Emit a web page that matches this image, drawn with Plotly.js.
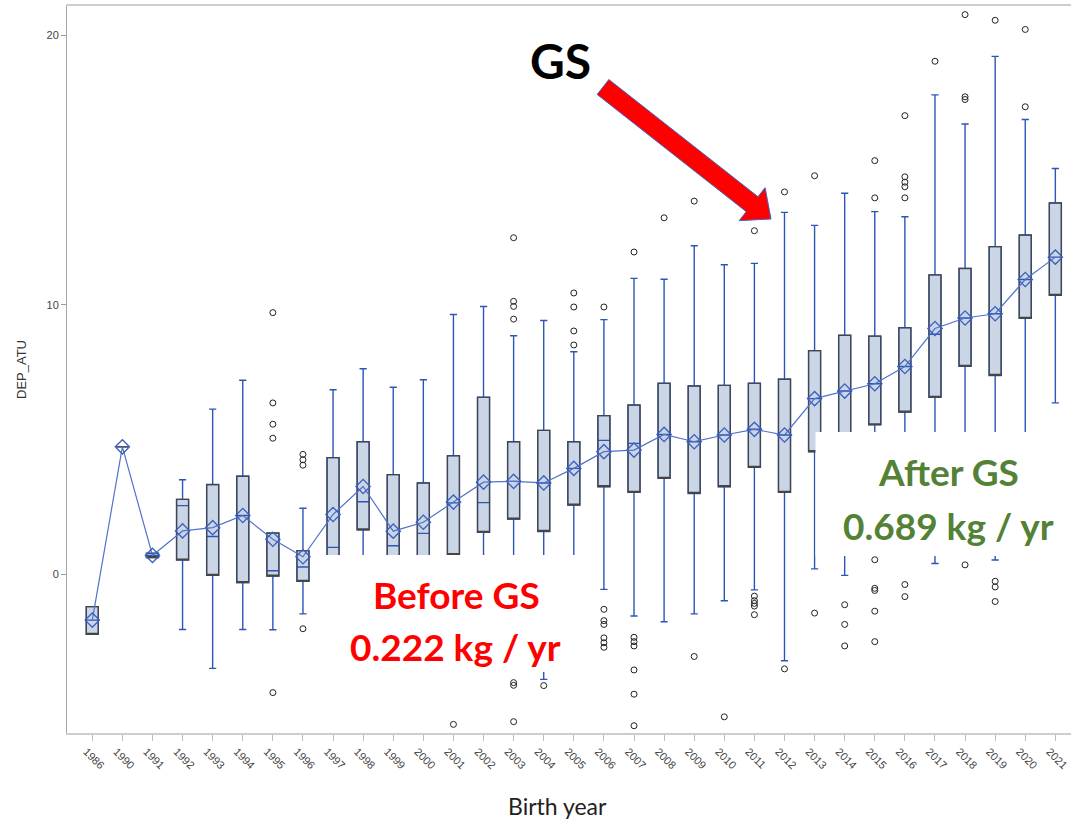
<!DOCTYPE html>
<html>
<head>
<meta charset="utf-8">
<script src="https://cdn.plot.ly/plotly-3.0.1.min.js"></script>
<style>html,body{margin:0;padding:0;background:#fff;}#chart{width:1071px;height:825px;}</style>
</head>
<body>
<div id="chart"></div>
<script>
// ---- data ----
const years = ['1986','1990','1991','1992','1993','1994','1995','1996','1997','1998','1999','2000',
  '2001','2002','2003','2004','2005','2006','2007','2008','2009','2010','2011','2012','2013','2014',
  '2015','2016','2017','2018','2019','2020','2021'];
const lowerWhisker = [-2.23,4.73,0.62,-2.05,-3.49,-2.05,-2.06,-1.47,-1.8,-1.6,-2.0,-2.2,
  -2.5,-2.8,-3.0,-3.90,-0.5,-0.56,-1.55,-1.76,-1.47,-0.98,-0.58,-3.21,0.20,-0.04,
  1.0,1.5,0.40,1.5,0.53,2.5,6.36];
const q1 = [-2.23,4.73,0.62,0.53,-0.04,-0.31,-0.07,-0.26,0.5,1.65,0.4,0.5,
  0.73,1.56,2.05,1.59,2.57,3.25,3.04,3.56,3.00,3.25,3.97,3.04,4.55,4.6,
  5.55,6.02,6.57,7.72,7.38,9.50,10.35];
const median = [-1.70,4.73,0.70,2.55,1.40,2.18,0.13,0.27,1.0,2.69,1.06,1.52,
  2.65,2.66,3.45,3.39,3.93,4.97,4.86,5.19,4.92,5.17,5.38,5.17,6.52,6.80,
  7.07,7.71,8.91,9.51,9.67,10.94,11.77];
const q3 = [-1.20,4.73,0.78,2.78,3.33,3.64,1.53,0.88,4.33,4.92,3.70,3.39,
  4.40,6.57,4.92,5.34,4.92,5.89,6.28,7.09,6.99,7.01,7.09,7.24,8.30,8.87,
  8.84,9.15,11.11,11.35,12.16,12.59,13.78];
const upperWhisker = [-1.20,4.73,0.78,3.51,6.13,7.20,1.53,2.45,6.85,7.63,6.94,7.22,
  9.64,9.94,8.85,9.42,8.26,9.45,10.98,10.95,12.19,11.49,11.54,13.43,12.95,14.14,
  13.46,13.27,17.79,16.71,19.22,16.88,15.06];
const means = [-1.70,4.73,0.70,1.61,1.73,2.18,1.30,0.65,2.22,3.26,1.60,1.93,
  2.68,3.42,3.45,3.39,3.93,4.55,4.61,5.19,4.92,5.17,5.38,5.17,6.52,6.80,
  7.07,7.71,9.12,9.51,9.67,10.94,11.77];
const outlierYear = [
  '1995','1995','1995','1995','1995',
  '1996','1996','1996','1996',
  '2001',
  '2003','2003','2003','2003','2003','2003','2003',
  '2004',
  '2005','2005','2005','2005',
  '2006','2006','2006','2006','2006','2006','2006',
  '2007','2007','2007','2007','2007','2007','2007',
  '2008',
  '2009','2009',
  '2010',
  '2011','2011','2011','2011','2011','2011',
  '2012','2012',
  '2013','2013',
  '2014','2014','2014',
  '2015','2015','2015','2015','2015','2015','2015',
  '2016','2016','2016','2016','2016','2016','2016',
  '2017',
  '2018','2018','2018','2018',
  '2019','2019','2019','2019',
  '2020','2020'];
const outlierValue = [
  9.71,6.36,5.57,5.05,-4.39,
  4.45,4.25,4.05,-2.02,
  -5.57,
  12.49,10.13,9.94,9.47,-4.02,-4.12,-5.47,
  -4.13,
  10.44,9.92,9.03,8.51,
  9.92,-1.30,-1.72,-1.86,-2.36,-2.54,-2.71,
  11.96,-2.34,-2.50,-2.66,-3.55,-4.45,-5.62,
  13.23,
  13.85,-3.05,
  -5.29,
  12.75,-0.81,-0.98,-1.08,-1.18,-1.50,
  14.19,-3.51,
  14.79,-1.44,
  -1.13,-1.86,-2.66,
  15.35,13.97,0.54,-0.52,-0.60,-1.37,-2.50,
  17.02,14.75,14.55,14.38,13.97,-0.38,-0.83,
  19.04,
  20.77,17.72,17.62,0.35,
  20.56,-0.26,-0.47,-1.01,
  20.22,17.35];

// ---- layout geometry helpers (pixel -> paper) ----
const W = 1071, H = 825, ML = 67, MR = 0, MT = 6, MB = 92;
const PW = W - ML - MR, PH = H - MT - MB;
const px = v => (v - ML) / PW;
const py = v => (H - MB - v) / PH;

const BLUE = '#2c55b8';
const traces = [
  { type: 'box', x: years, q1: q1, median: median, q3: q3,
    lowerfence: lowerWhisker, upperfence: upperWhisker,
    width: 0.4, whiskerwidth: 0.6, boxpoints: false,
    fillcolor: '#cad5e5', line: { color: BLUE, width: 1.4 },
    hoverinfo: 'skip', showlegend: false },
  { type: 'box', x: years, q1: q1, median: q1, q3: q3,
    lowerfence: q1, upperfence: q3,
    width: 0.4, whiskerwidth: 0.6, boxpoints: false,
    fillcolor: 'rgba(0,0,0,0)', line: { color: '#454545', width: 1.2 },
    hoverinfo: 'skip', showlegend: false },
  { type: 'scatter', mode: 'lines+markers', x: years, y: means,
    line: { color: '#5273c6', width: 1.2 },
    marker: { symbol: 'diamond-open', size: 11, color: '#3a5fbf', line: { color: '#3a5fbf', width: 1.3 } },
    hoverinfo: 'skip', showlegend: false },
  { type: 'scatter', mode: 'markers', x: outlierYear, y: outlierValue,
    marker: { symbol: 'circle-open', size: 6, color: '#222', line: { color: '#222', width: 1 } },
    hoverinfo: 'skip', showlegend: false }
];

// arrow polygon (pixel geometry of the decoration)
const tail = [603, 87], tip = [771, 219];
const dx = tip[0] - tail[0], dy = tip[1] - tail[1], L = Math.hypot(dx, dy);
const u = [dx / L, dy / L], n = [-u[1], u[0]];
const headLen = 24, hw = 9.5, hh = 21;
const base = [tip[0] - headLen * u[0], tip[1] - headLen * u[1]];
const pts = [
  [tail[0] + n[0] * hw, tail[1] + n[1] * hw],
  [base[0] + n[0] * hw, base[1] + n[1] * hw],
  [base[0] + n[0] * hh, base[1] + n[1] * hh],
  tip,
  [base[0] - n[0] * hh, base[1] - n[1] * hh],
  [base[0] - n[0] * hw, base[1] - n[1] * hw],
  [tail[0] - n[0] * hw, tail[1] - n[1] * hw]
];
const arrowPath = 'M ' + pts.map(p => px(p[0]).toFixed(5) + ' ' + py(p[1]).toFixed(5)).join(' L ') + ' Z';

const TXT = 'Lato, "Open Sans", sans-serif';
const layout = {
  width: W, height: H,
  margin: { l: ML, r: MR, t: MT, b: MB },
  paper_bgcolor: '#fff', plot_bgcolor: '#fff',
  boxmode: 'overlay',
  showlegend: false,
  xaxis: {
    type: 'category', categoryorder: 'array', categoryarray: years,
    range: [-0.84, 32.52], autorange: false,
    showgrid: false, zeroline: false,
    showline: true, linecolor: '#c9cdd4', linewidth: 2, mirror: true,
    ticks: 'outside', ticklen: 6, tickcolor: '#b8bcc4', tickwidth: 1,
    tickangle: 45, ticklabelshift: -6,
    tickfont: { family: '"Liberation Sans", Arial, sans-serif', size: 11, color: '#444' }
  },
  yaxis: {
    range: [-5.89, 21.09], autorange: false,
    tickvals: [0, 10, 20], ticktext: ['0', '10', '20'],
    showgrid: false, zeroline: false,
    showline: true, linecolor: '#a6a6a6', linewidth: 1,
    ticks: 'outside', ticklen: 5, tickcolor: '#999', tickwidth: 1,
    tickfont: { family: '"Liberation Sans", Arial, sans-serif', size: 11, color: '#444' },
    title: { text: 'DEP_ATU', standoff: 16,
      font: { family: '"Liberation Sans", Arial, sans-serif', size: 13, color: '#333' } }
  },
  shapes: [
    { type: 'rect', xref: 'paper', yref: 'paper', x0: px(316), x1: px(590), y0: py(672), y1: py(555),
      fillcolor: '#ffffff', line: { width: 0 }, layer: 'above' },
    { type: 'rect', xref: 'paper', yref: 'paper', x0: px(815.5), x1: px(1075), y0: py(556), y1: py(432),
      fillcolor: '#ffffff', line: { width: 0 }, layer: 'above' },
    { type: 'path', xref: 'paper', yref: 'paper', path: arrowPath,
      fillcolor: '#ff0000', line: { color: '#3f66c4', width: 1 }, layer: 'above' }
  ],
  annotations: [
    { text: '<b>GS</b>', xref: 'paper', yref: 'paper', x: px(560), y: py(60), showarrow: false,
      xanchor: 'center', yanchor: 'middle', font: { family: TXT, size: 48, color: '#000' } },
    { text: '<b>Before GS</b>', xref: 'paper', yref: 'paper', x: px(456), y: py(594), showarrow: false,
      xanchor: 'center', yanchor: 'middle', font: { family: TXT, size: 37, color: '#ff0000' } },
    { text: '<b>0.222 kg / yr</b>', xref: 'paper', yref: 'paper', x: px(455), y: py(646), showarrow: false,
      xanchor: 'center', yanchor: 'middle', font: { family: TXT, size: 37, color: '#ff0000' } },
    { text: '<b>After GS</b>', xref: 'paper', yref: 'paper', x: px(948), y: py(471), showarrow: false,
      xanchor: 'center', yanchor: 'middle', font: { family: TXT, size: 37, color: '#538135' } },
    { text: '<b>0.689 kg / yr</b>', xref: 'paper', yref: 'paper', x: px(948), y: py(525), showarrow: false,
      xanchor: 'center', yanchor: 'middle', font: { family: TXT, size: 37, color: '#538135' } },
    { text: 'Birth year', xref: 'paper', yref: 'paper', x: px(557), y: py(806), showarrow: false,
      xanchor: 'center', yanchor: 'middle', font: { family: TXT, size: 23, color: '#222' } }
  ]
};

Plotly.newPlot('chart', traces, layout, { staticPlot: true, displayModeBar: false });
</script>
</body>
</html>
